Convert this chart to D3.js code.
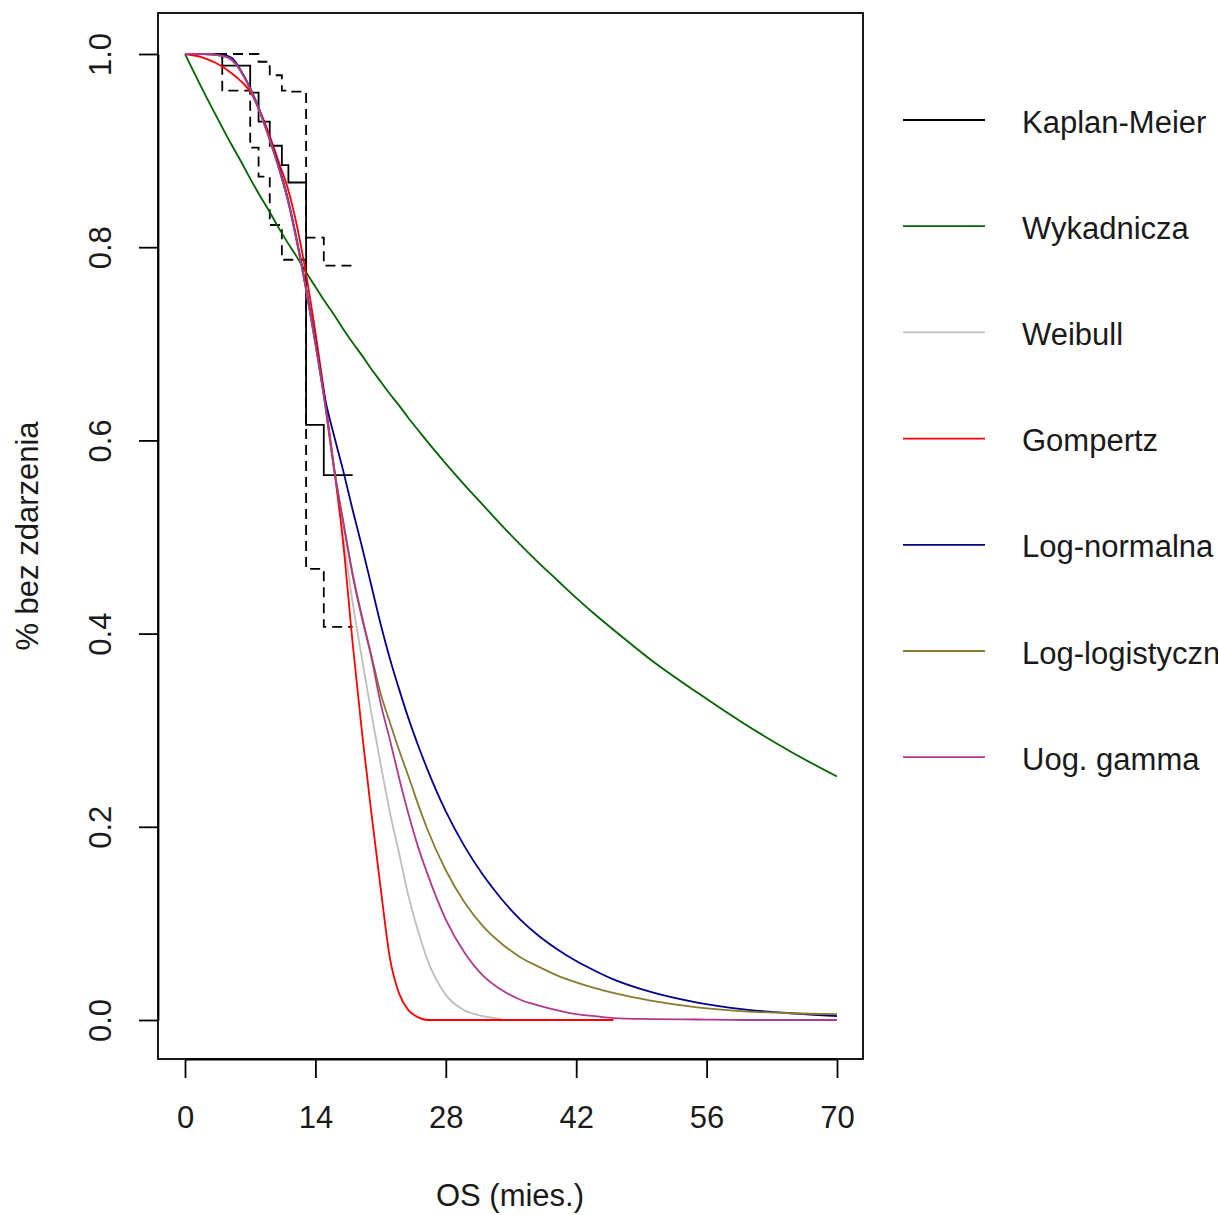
<!DOCTYPE html>
<html><head><meta charset="utf-8">
<script src="https://cdn.jsdelivr.net/npm/d3@7"></script>
<style>
body{margin:0;background:#fff}
text{font-family:"Liberation Sans",Arial,sans-serif;fill:#1a1a1a}
</style>
</head><body><svg id="c" width="1218" height="1215"></svg>
<script>
// ---- data ----
const months = [0,2,4,5,6,7,8,9,10,11,12,13,14,15,16,17,18,19,20,21,22,23,24,25,26,28,30,32,34,36,38,40,42,44,46,50,55,60,65,70];

const wykadnicza = [1,0.961,0.924,0.906,0.889,0.871,0.854,0.838,0.821,0.805,0.790,0.774,0.759,0.744,0.730,0.715,0.701,0.688,0.674,0.661,0.648,0.636,0.623,0.611,0.599,0.576,0.554,0.533,0.512,0.492,0.473,0.455,0.437,0.420,0.404,0.373,0.339,0.307,0.278,0.252];

const weibull = [1,1,0.998,0.995,0.981,0.963,0.940,0.913,0.884,0.850,0.806,0.756,0.700,0.640,0.572,0.500,0.432,0.374,0.318,0.265,0.215,0.172,0.128,0.093,0.063,0.026,0.010,0.004,0.001,null,null,null,null,null,null,null,null,null,null,null];

const gompertz = [1,0.996,0.987,0.980,0.972,0.961,0.942,0.918,0.890,0.862,0.823,0.772,0.712,0.646,0.572,0.492,0.390,0.298,0.215,0.137,0.064,0.027,0.010,0.003,0,0,0,0,0,0,0,0,0,0,0,null,null,null,null,null];

const logNormalna = [1,1,0.999,0.996,0.983,0.965,0.942,0.915,0.886,0.852,0.808,0.758,0.703,0.645,0.605,0.568,0.528,0.490,0.450,0.410,0.374,0.342,0.312,0.285,0.260,0.216,0.180,0.150,0.125,0.104,0.087,0.073,0.061,0.051,0.042,0.029,0.018,0.011,0.007,0.004];

const logLogistyczna = [1,1,0.998,0.994,0.982,0.964,0.941,0.914,0.884,0.850,0.806,0.756,0.700,0.640,0.572,0.516,0.462,0.418,0.378,0.338,0.308,0.279,0.252,0.224,0.198,0.155,0.122,0.097,0.079,0.065,0.055,0.046,0.039,0.033,0.028,0.020,0.013,0.009,0.007,0.006];

const uogGamma = [1,1,0.998,0.994,0.982,0.964,0.941,0.914,0.884,0.850,0.806,0.756,0.700,0.640,0.570,0.514,0.460,0.416,0.376,0.328,0.290,0.250,0.213,0.180,0.152,0.104,0.070,0.046,0.031,0.021,0.015,0.010,0.006,0.004,0.002,0.001,0.0005,0,0,0];

// Kaplan-Meier steps and 95% CI
const kmTimes = [0,4.0,7.0,7.9,9.1,10.4,11.1,13.0,14.9];
const kmSurv  = [1.0,0.988,0.960,0.930,0.905,0.885,0.867,0.616,0.564];
const kmUpper = [1.0,1.0,1.0,0.992,0.978,0.962,0.961,0.810,0.781];
const kmLower = [1.0,0.962,0.903,0.873,0.823,0.787,0.787,0.467,0.407];
const kmEnd = 18.0;

const xTicks = [0,14,28,42,56,70];
const yTicks = [0,0.2,0.4,0.6,0.8,1.0];

const legendNames  = ["Kaplan-Meier","Wykadnicza","Weibull","Gompertz","Log-normalna","Log-logistyczna","Uog. gamma"];
const legendColors = ["#000000","#006400","#bebebe","#ff0000","#00008b","#8b7a2e","#b0388f"];
const curveSeries = [wykadnicza, weibull, gompertz, logNormalna, logLogistyczna, uogGamma];

// ---- drawing ----
const svg = d3.select("#c");
svg.append("rect").attr("width",1218).attr("height",1215).attr("fill","#fff");

const x = d3.scaleLinear().domain([0,70]).range([185,837]);
const y = d3.scaleLinear().domain([0,1]).range([1020,54]);
const box = {l:158, t:13, r:863, b:1059};
const FS = 31;

// KM
const stepLine = d3.line().x(d=>x(d[0])).y(d=>y(d[1])).curve(d3.curveStepAfter);
function stepPts(vals){
  const p = kmTimes.map((t,i)=>[t, vals[i]]);
  p.push([kmEnd, vals[vals.length-1]]);
  return p;
}
svg.append("path").attr("d", stepLine(stepPts(kmUpper))).attr("fill","none")
  .attr("stroke","#000").attr("stroke-width",1.8).attr("stroke-dasharray","10,6");
svg.append("path").attr("d", stepLine(stepPts(kmLower))).attr("fill","none")
  .attr("stroke","#000").attr("stroke-width",1.8).attr("stroke-dasharray","10,6");
svg.append("path").attr("d", stepLine(stepPts(kmSurv))).attr("fill","none")
  .attr("stroke","#000").attr("stroke-width",1.8);

// parametric curves
const curveLine = d3.line().defined(d=>d[1]!==null).x(d=>x(d[0])).y(d=>y(d[1])).curve(d3.curveMonotoneX);
curveSeries.forEach((vals,i)=>{
  const pts = months.map((t,j)=>[t, vals[j]]);
  svg.append("path").attr("d", curveLine(pts)).attr("fill","none")
    .attr("stroke", legendColors[i+1]).attr("stroke-width",1.8);
});

// box
svg.append("rect").attr("x",box.l).attr("y",box.t).attr("width",box.r-box.l).attr("height",box.b-box.t)
  .attr("fill","none").attr("stroke","#000").attr("stroke-width",1.8);

// x axis
const gx = svg.append("g").attr("transform",`translate(0,${box.b})`)
  .call(d3.axisBottom(x).tickValues(xTicks).tickSize(19).tickSizeOuter(0).tickFormat(d3.format("d")));
gx.select(".domain").attr("stroke","#000").attr("stroke-width",1.8);
gx.selectAll(".tick line").attr("stroke","#000").attr("stroke-width",1.8);
gx.selectAll(".tick text").attr("y",58).attr("dy",null).attr("dominant-baseline","central")
  .attr("font-size",FS).attr("font-family","Liberation Sans, Arial, sans-serif").attr("fill","#1a1a1a");

// y axis
const gy = svg.append("g").attr("transform",`translate(${box.l},0)`)
  .call(d3.axisLeft(y).tickValues(yTicks).tickSize(19).tickSizeOuter(0).tickFormat(d3.format(".1f")));
gy.select(".domain").attr("stroke","#000").attr("stroke-width",1.8);
gy.selectAll(".tick line").attr("stroke","#000").attr("stroke-width",1.8);
gy.selectAll(".tick text").attr("x",null).attr("dy",null)
  .attr("transform","translate(-58,0) rotate(-90)")
  .attr("text-anchor","middle").attr("dominant-baseline","central")
  .attr("font-size",FS).attr("font-family","Liberation Sans, Arial, sans-serif").attr("fill","#1a1a1a");

// axis titles
svg.append("text").attr("transform","translate(27,536) rotate(-90)")
  .attr("text-anchor","middle").attr("dominant-baseline","central").attr("font-size",FS)
  .text("% bez zdarzenia");
svg.append("text").attr("x",510).attr("y",1195)
  .attr("text-anchor","middle").attr("dominant-baseline","central").attr("font-size",FS)
  .text("OS (mies.)");

// legend (clipped at the right edge, as in the reference)
const lg = svg.append("g");
legendNames.forEach((n,i)=>{
  const ly = 120 + i*106.2;
  lg.append("line").attr("x1",903).attr("x2",985).attr("y1",ly).attr("y2",ly)
    .attr("stroke",legendColors[i]).attr("stroke-width",1.8);
  lg.append("text").attr("x",1022).attr("y",ly+2).attr("dominant-baseline","central")
    .attr("font-size",FS).text(n);
});
</script>
</body></html>
